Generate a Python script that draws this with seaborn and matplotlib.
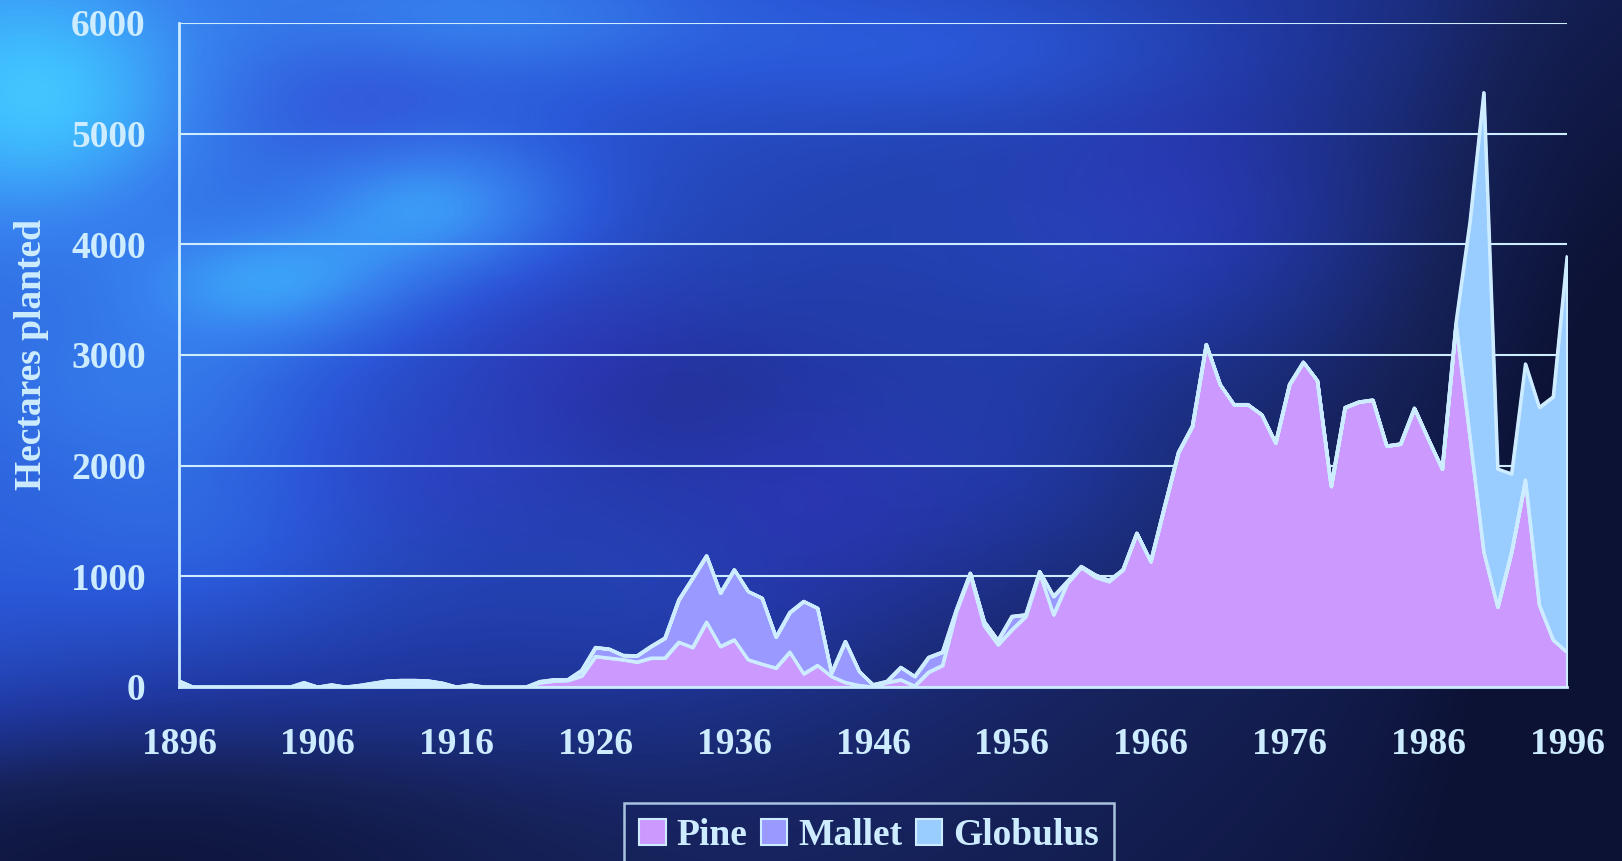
import numpy as np
import matplotlib
matplotlib.use("Agg")
import matplotlib.pyplot as plt
from matplotlib.colors import LinearSegmentedColormap, to_rgb
from matplotlib.patches import Patch
import seaborn as sns

# ---- data: hectares planted per year ----
years = list(range(1896, 1997))

pine = [
    30, 0, 0, 0, 0, 0, 0, 0, 0, 15,            # 1896-1905
    0, 0, 0, 5, 15, 25, 30, 30, 25, 10,        # 1906-1915
    0, 0, 0, 0, 0, 0, 40, 55, 60, 100,         # 1916-1925
    277, 262, 247, 226, 262, 262, 406, 358, 587, 367,      # 1926-1935
    427, 247, 208, 172, 316, 120, 196, 96, 42, 15,         # 1936-1945
    0, 42, 66, 10, 135, 196, 683, 1014, 554, 382,          # 1946-1955
    518, 638, 1030, 653, 939, 1080, 993, 953, 1059, 1390,  # 1956-1965
    1134, 1632, 2120, 2355, 3094, 2733, 2552, 2552, 2461, 2205,  # 1966-1975
    2733, 2935, 2769, 1813, 2525, 2575, 2593, 2178, 2196, 2519,  # 1976-1985
    2240, 1970, 3278, 2260, 1222, 722, 1222, 1870, 741, 426,     # 1986-1995
    315,                                                          # 1996
]

mallet = [
    25, 0, 0, 0, 0, 0, 0, 0, 0, 25,
    0, 20, 0, 10, 20, 30, 30, 30, 30, 25,
    0, 20, 0, 0, 0, 0, 10, 11, 6, 50,
    81, 81, 39, 57, 105, 180, 382, 626, 599, 482,
    633, 617, 596, 279, 358, 654, 517, 30, 370, 126,
    21, 9, 112, 86, 133, 120, 15, 15, 39, 39,
    120, 15, 14, 166, 15, 10, 21, 10, 0, 0,
    0, 0, 0, 0, 0, 0, 0, 0, 0, 0,
    0, 0, 0, 0, 0, 0, 0, 0, 0, 0,
    0, 0, 0, 0, 0, 0, 0, 0, 0, 0,
    0,
]

globulus = [
    0, 0, 0, 0, 0, 0, 0, 0, 0, 0,
    0, 0, 0, 0, 0, 0, 0, 0, 0, 0,
    0, 0, 0, 0, 0, 0, 0, 0, 0, 0,
    0, 0, 0, 0, 0, 0, 0, 0, 0, 0,
    0, 0, 0, 0, 0, 0, 0, 0, 0, 0,
    0, 0, 0, 0, 0, 0, 0, 0, 0, 0,
    0, 0, 0, 0, 0, 0, 0, 0, 0, 0,
    0, 0, 0, 0, 0, 0, 0, 0, 0, 0,
    0, 0, 0, 0, 0, 0, 0, 0, 0, 0,
    0, 0, 20, 1940, 4148, 1248, 704, 1049, 1785, 2196,
    3574,
]

series_names = ["Pine", "Mallet", "Globulus"]
series_colors = ["#CC99FF", "#9999FF", "#99CCFF"]
y_ticks = [0, 1000, 2000, 3000, 4000, 5000, 6000]
x_label_years = list(range(1896, 1997, 10))
x_tick_years = list(range(1896, 1997, 5))

LIGHT = "#CDECFF"
FONT = "Liberation Serif"

sns.set_style("white")
plt.rcParams["font.family"] = [FONT, "DejaVu Serif"]
plt.rcParams["font.weight"] = "bold"

W, H = 1622, 861
fig = plt.figure(figsize=(W / 100, H / 100), dpi=100)

# ---- smooth cloudy blue backdrop ----
u = np.linspace(0, 1, W)[None, :]
v = np.linspace(0, 1, H)[:, None]


def blob(cx, cy, sx, sy):
    return np.exp(-(((u - cx) / sx) ** 2 + ((v - cy) / sy) ** 2) / 2)


b = 0.74 - 0.55 * u - 0.30 * v
b = b + 0.28 * blob(0.03, 0.12, 0.07, 0.10)
b = b + 0.30 * blob(0.27, 0.24, 0.06, 0.06)
b = b + 0.26 * blob(0.17, 0.33, 0.06, 0.05)
b = b + 0.16 * blob(0.31, 0.02, 0.09, 0.05)
b = b + 0.14 * blob(0.10, 0.45, 0.07, 0.07)
b = b + 0.12 * blob(0.12, 0.62, 0.08, 0.08)
b = b + 0.14 * blob(0.60, 0.06, 0.12, 0.06)
b = b + 0.12 * blob(0.70, 0.30, 0.10, 0.10)
b = b + 0.10 * blob(0.62, 0.55, 0.08, 0.10)
b = b + 0.08 * blob(0.42, 0.70, 0.08, 0.08)
b = b - 0.10 * blob(0.40, 0.45, 0.06, 0.06)
b = b - 0.45 * blob(0.02, 1.00, 0.22, 0.12)
b = b - 0.20 * blob(1.00, 0.50, 0.08, 0.60)

bg_cmap = LinearSegmentedColormap.from_list(
    "bg",
    [(0.00, "#0C1234"), (0.18, "#16225A"), (0.36, "#2038A0"),
     (0.54, "#2A58D8"), (0.72, "#3884F0"), (0.88, "#40C0FF"), (1.00, "#5CE6FF")],
)
rgb = bg_cmap(np.clip((b + 0.1) / 1.2, 0, 1))[..., :3]
violet = np.array(to_rgb("#3A34CC"))
w = (0.35 * blob(0.36, 0.42, 0.06, 0.07) + 0.35 * blob(0.50, 0.58, 0.07, 0.09)
     + 0.30 * blob(0.72, 0.22, 0.06, 0.08) + 0.25 * blob(0.28, 0.55, 0.06, 0.06)
     + 0.25 * blob(0.22, 0.12, 0.05, 0.05))
w = np.clip(w, 0, 0.6)[..., None]
rgb = rgb * (1 - w) + violet * w

bg_ax = fig.add_axes([0, 0, 1, 1], zorder=0)
bg_ax.imshow(rgb, aspect="auto", extent=(0, 1, 0, 1), interpolation="bilinear")
bg_ax.set_axis_off()

# ---- stacked area chart ----
ax = fig.add_axes([179 / W, 1 - 687 / H, (1567 - 179) / W, (687 - 22.8) / H], zorder=1)
ax.set_facecolor("none")

x = np.array(years, dtype=float)
layers = [np.array(pine, float), np.array(mallet, float), np.array(globulus, float)]
base = np.zeros_like(x)
for vals, name, col in zip(layers, series_names, series_colors):
    top = base + vals
    ax.fill_between(x, base, top, facecolor=col, edgecolor=LIGHT,
                    linewidth=2.2, zorder=3)
    sns.lineplot(x=x, y=top, ax=ax, color=LIGHT, linewidth=2.2, zorder=4,
                 legend=False)
    base = top

ax.set_xlim(1896, 1996)
ax.set_ylim(0, 6000)
ax.set_yticks(y_ticks)
ax.set_yticklabels([str(t) for t in y_ticks])
ax.set_xticks(x_tick_years)
ax.set_xticklabels([str(t) if t in x_label_years else "" for t in x_tick_years])

ax.grid(axis="y", color=LIGHT, linewidth=1.5, zorder=1)
ax.grid(axis="x", visible=False)
ax.set_axisbelow(True)

for side in ["top", "right"]:
    ax.spines[side].set_visible(False)
for side in ["left", "bottom"]:
    ax.spines[side].set_color(LIGHT)
    ax.spines[side].set_linewidth(2)
    ax.spines[side].set_zorder(5)

ax.tick_params(axis="y", direction="out", length=10, width=1.5, color=LIGHT,
               labelcolor=LIGHT, labelsize=27, pad=14)
ax.tick_params(axis="x", direction="out", length=9, width=1.5, color=LIGHT,
               labelcolor=LIGHT, labelsize=27, pad=20)
for lab in ax.get_xticklabels() + ax.get_yticklabels():
    lab.set_fontweight("bold")
    lab.set_fontfamily(FONT)

ax.set_ylabel("Hectares planted", color=LIGHT, fontsize=27, fontweight="bold",
              fontfamily=FONT)
ax.yaxis.set_label_coords(-0.094, 0.5)

handles = [Patch(facecolor=c, edgecolor=LIGHT, linewidth=1.5) for c in series_colors]
leg = fig.legend(handles, series_names, loc="upper center", ncol=3,
                 bbox_to_anchor=(869 / W, 1 - 803 / H), frameon=True,
                 fancybox=False, prop={"family": FONT, "weight": "bold", "size": 27},
                 handlelength=0.7, handleheight=0.7, handletextpad=0.3,
                 columnspacing=0.35, borderpad=0.4, borderaxespad=0)
leg.get_frame().set_facecolor("none")
leg.get_frame().set_edgecolor(LIGHT)
leg.get_frame().set_linewidth(1.8)
for t in leg.get_texts():
    t.set_color(LIGHT)

fig.savefig("out.png", dpi=100)
